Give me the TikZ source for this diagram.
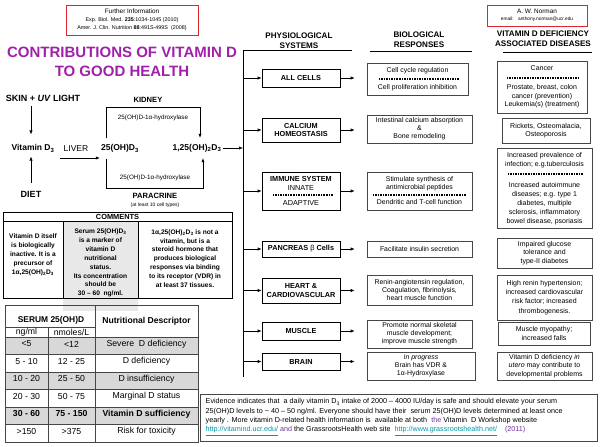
\documentclass[tikz,border=0pt]{standalone}
\usepackage{fontspec}
\setmainfont{Liberation Sans}
\usepackage{tikz}
\usetikzlibrary{positioning, arrows.meta}

\definecolor{titoloviola}{RGB}{160,32,170}
\definecolor{rossobox}{RGB}{220,40,45}
\definecolor{grigiobordo}{RGB}{70,70,70}
\definecolor{grigiocella}{RGB}{216,216,216}
\definecolor{grigiochiaro}{RGB}{232,232,232}
\definecolor{linkteal}{RGB}{0,150,165}
\definecolor{violatesto}{RGB}{112,48,160}

\newcommand{\fsz}[2]{\fontsize{#1}{#2}\selectfont}
\newcommand{\dsub}[1]{\textsubscript{#1}}
\newcommand{\weblink}[1]{\textcolor{linkteal}{\underline{#1}}}

\tikzset{
  arr/.style={-{Latex[length=4pt,width=3.2pt]}, line width=0.6pt},
  sysbox/.style={draw, line width=0.6pt, minimum width=78pt, align=center, inner sep=1pt, font=\bfseries\fsz{7.3}{8.5}},
  biobox/.style={draw=grigiobordo, line width=0.6pt, minimum width=105pt, align=center, inner sep=1pt, font=\fsz{6.9}{8}},
  disbox/.style={draw=grigiobordo, line width=0.6pt, minimum width=95pt, align=center, inner sep=1pt, font=\fsz{7}{8.6}},
  dotsep/.style={line width=1.1pt, dash pattern=on 0.9pt off 0.75pt},
  lbl/.style={font=\bfseries\fsz{8.5}{10}, inner sep=1pt},
  hdr/.style={font=\bfseries\fsz{8.1}{10}, align=center, inner sep=0pt},
  infobox/.style={draw=rossobox, line width=0.8pt, align=center, inner sep=1pt},
  nota/.style={font=\bfseries\fsz{6.6}{8.9}, align=center, inner sep=0pt},
  tab/.style={font=\fsz{8.7}{9}, inner sep=0pt},
}

\begin{document}
\begin{tikzpicture}[x=1pt, y=-1pt]
    \useasboundingbox (0,0) rectangle (600,447);

    % riquadri in alto
    \node[infobox, minimum width=132pt, minimum height=30pt, font=\fsz{5.4}{8}] (furtherinfo) at (132,20)
        {{\fsz{6.4}{8}Further Information}\\Exp. Biol. Med. {\bfseries 235}:1034-1045 (2010)\\Amer. J. Clin. Nutrition {\bfseries 88}:491S-499S~ (2008)};
    \node[infobox, minimum width=100pt, minimum height=21pt, font=\fsz{4.8}{7.5}] (author) at (537,15.5)
        {{\fsz{6.4}{7.5}A. W. Norman}\\email:~~ anthony.norman@ucr.edu};

    \node[font=\bfseries\fsz{15}{19}, text=titoloviola, align=center] (titolo) at (122,61.5) {CONTRIBUTIONS OF VITAMIN D\\TO GOOD HEALTH};

    % intestazioni colonne
    \node[hdr] (hsys) at (299,40.5) {PHYSIOLOGICAL\\SYSTEMS};
    \node[hdr] (hbio) at (419,39.5) {BIOLOGICAL\\RESPONSES};
    \node[hdr] (hdis) at (543,38.5) {VITAMIN D DEFICIENCY\\ASSOCIATED DISEASES};
    \coordinate (spinetop) at (243,50);
    \coordinate (spinebot) at (243,377);
    \draw[line width=0.7pt] (352,50) -- (spinetop) -- (spinebot); % linea verticale
    \draw[line width=0.7pt] (370,51) -- (472,51);
    \draw[line width=0.7pt] (503,52) -- (592,52);

    % metabolismo
    \coordinate (asse) at (31,0);
    \node[lbl, font=\bfseries\fsz{9}{10}] (skin) at (43,98) {SKIN + \textit{UV} LIGHT};
    \node[lbl] (vitd) at (33,148.5) {Vitamin D\dsub{3}};
    \node[lbl, font=\bfseries\fsz{9}{10}] (diet) at (31,194.5) {DIET};
    \node[lbl, font=\fsz{8.5}{10}] (liver) at (76,148.5) {LIVER};
    \node[lbl] (ohd) at (120,148.5) {25(OH)D\dsub{3}};
    \node[lbl] (dihyd) at (197,148) {1,25(OH)\dsub{2}D\dsub{3}};
    \coordinate (liverarr) at (60,158);
    \draw[arr, shorten <=4pt, shorten >=9pt] (skin.south -| asse) -- (vitd.north -| asse);
    \draw[arr, shorten <=7pt, shorten >=3pt] (diet.north) -- (vitd.south -| diet.north);
    \draw[arr] (liverarr) -- (liverarr -| ohd.west);
    \draw[arr, shorten <=5pt, shorten >=5pt] ([xshift=-14pt]ohd.north) -- ++(0,-36) -| ([xshift=3pt]dihyd.north); % rene
    \draw[arr, shorten <=5pt, shorten >=5pt] ([xshift=-14pt]ohd.south) -- ++(0,35) -| ([xshift=6pt]dihyd.south); % paracrino
    \draw[arr] (dihyd.east) -- (dihyd.east -| spinetop);
    \node[lbl, font=\bfseries\fsz{7.6}{9}] (kidney) at (148,100) {KIDNEY};
    \node[font=\fsz{6.3}{8}] (kidenz) at (153,118) {25(OH)D-1α-hydroxylase};
    \node[font=\fsz{6.3}{8}] (paraenz) at (155,178) {25(OH)D-1α-hydroxylase};
    \node[lbl, font=\bfseries\fsz{7.6}{9}] (paracrine) at (155,196) {PARACRINE};
    \node[font=\fsz{5}{6}, inner sep=0pt] (paranote) at (155,205) {(at least 10 cell types)};

    % commenti
    \fill[grigiochiaro] (63,221) rectangle (138,311);
    \draw[line width=0.8pt] (3,212) rectangle (232,298);
    \draw[line width=0.8pt] (3,221) -- (232,221) (63,221) -- (63,298) (138,221) -- (138,298);
    \node[font=\bfseries\fsz{7.4}{8}, inner sep=0pt] (comments) at (117.5,216.5) {COMMENTS};
    \node[nota] (nota1) at (33,255) {Vitamin D itself\\is biologically\\inactive. It is a\\precursor of\\1α,25(OH)\dsub{2}D\dsub{3}};
    \node[nota] (nota2) at (100.5,263) {Serum 25(OH)D\dsub{3}\\is a marker of\\vitamin D\\nutritional\\status.\\Its concentration\\should be\\30 – 60~ ng/ml.};
    \node[nota] (nota3) at (185,258.5) {1α,25(OH)\dsub{2}D\dsub{3} is not a\\vitamin, but is a\\steroid hormone that\\produces biological\\responses via binding\\to its receptor (VDR) in\\at least 37 tissues.};

    % tabella
    \fill[grigiocella] (5,337) rectangle (198,354.5) (5,372) rectangle (198,389.5) (5,407) rectangle (198,424.5);
    \draw[line width=0.6pt, grigiobordo] (5,327) -- (95,327) (48,327) -- (48,442) (95,305) -- (95,442);
    \foreach \y in {337,354.5,372,389.5,407,424.5}
        \draw[line width=0.6pt, grigiobordo] (5,\y) -- (198,\y);
    \draw[line width=0.9pt, grigiobordo] (5,305) rectangle (198,442);
    \node[tab, font=\bfseries\fsz{8.4}{9}] (serum) at (51,320) {SERUM 25(OH)D};
    \node[tab] (ngml) at (26.5,332) {ng/ml};
    \node[tab] (nmol) at (71.5,332) {nmoles/L};
    \node[tab, font=\bfseries\fsz{8.6}{9}] (descr) at (146.5,321) {Nutritional Descriptor};
    \foreach \y/\a/\b/\c in {344/<5/<12/Severe~ D deficiency, 361.5/5 - 10/12 - 25/D deficiency,
        379/10 - 20/25 - 50/D insufficiency, 396.5/20 - 30/50 - 75/Marginal D status,
        414/\textbf{30 - 60}/\textbf{75 - 150}/\textbf{Vitamin D sufficiency}, 431.5/>150/>375/Risk for toxicity} {
        \node[tab] at (26.5,\y) {\a};
        \node[tab] at (71.5,\y) {\b};
        \node[tab] at (146.5,\y) {\c};
    }

    % sistemi fisiologici
    \node[sysbox, minimum height=18pt] (allcells) at (301,78) {ALL CELLS};
    \node[sysbox, minimum height=24pt] (calcium) at (301,130) {CALCIUM\\HOMEOSTASIS};
    \node[sysbox, minimum height=38pt] (immune) at (301,191) {IMMUNE SYSTEM\\{\mdseries INNATE}\\[6.5pt]{\mdseries ADAPTIVE}};
    \node[sysbox, minimum height=16pt] (pancreas) at (301,249) {PANCREAS {\mdseries β} Cells};
    \node[sysbox, minimum height=25pt] (heart) at (301,290.5) {HEART \&\\CARDIOVASCULAR};
    \node[sysbox, minimum height=18pt] (muscle) at (301,331) {MUSCLE};
    \node[sysbox, minimum height=17pt] (brain) at (301,361.5) {BRAIN};

    % risposte biologiche
    \node[biobox, minimum width=101pt, minimum height=32pt] (cellcycle) at (417.5,79) {Cell cycle regulation\\[9pt]Cell proliferation inhibition};
    \node[biobox, minimum height=28pt] (intestinal) at (419.5,129) {Intestinal calcium absorption\\\&\\Bone remodeling};
    \node[biobox, minimum height=38pt] (stimulate) at (419.5,191) {Stimulate synthesis of\\antimicrobial peptides\\[7pt]Dendritic and T-cell function};
    \node[biobox, minimum height=16pt] (insulin) at (419.5,249) {Facilitate insulin secretion};
    \node[biobox, minimum height=30pt] (renin) at (419.5,290) {Renin-angiotensin regulation,\\Coagulation, fibrinolysis,\\heart muscle function};
    \node[biobox, minimum height=28pt] (promote) at (419.5,334) {Promote normal skeletal\\muscle development;\\improve muscle strength};
    \node[biobox, minimum width=108pt, minimum height=28pt] (progress) at (421,366) {\textit{In progress}\\Brain has VDR \&\\1α-Hydroxylase};
    \draw[dotsep] (379,79) -- (459,79);
    \draw[dotsep] (373,195) -- (467,195);
    \draw[dotsep] (273,195) -- (333,195);

    % malattie
    \node[disbox, minimum width=90pt, minimum height=52pt] (cancer) at (542,87) {Cancer\\[10pt]Prostate, breast, colon\\cancer (prevention)\\Leukemia(s) (treatment)};
    \node[disbox, minimum width=88pt, minimum height=25pt] (rickets) at (546,130.5) {Rickets, Osteomalacia,\\Osteoporosis};
    \node[disbox, minimum height=80pt, font=\fsz{7}{9}] (infection) at (544.5,188.5) {Increased prevalence of\\infection; e.g.tuberculosis\\[12pt]Increased autoimmune\\diseases; e.g. type 1\\diabetes, multiple\\sclerosis, inflammatory\\bowel disease, psoriasis};
    \node[disbox, minimum height=30pt, font=\fsz{7}{8.2}] (glucose) at (544.5,253) {Impaired glucose\\tolerance and\\type-II diabetes};
    \node[disbox, minimum height=45pt, font=\fsz{7}{9.2}] (hypert) at (544.5,297.5) {High renin hypertension;\\increased cardiovascular\\risk factor; increased\\thrombogenesis.};
    \node[disbox, minimum width=92pt, minimum height=23pt] (myopathy) at (544,333.5) {Muscle myopathy;\\increased falls};
    \node[disbox, minimum height=28pt] (utero) at (544.5,366) {Vitamin D deficiency \textit{in}\\\textit{utero} may contribute to\\developmental problems};
    \draw[dotsep] (507,78) -- (578,78);
    \draw[dotsep] (508,174) -- (583,174);

    % frecce
    \foreach \s/\b in {allcells/cellcycle, calcium/intestinal, immune/stimulate, pancreas/insulin, heart/renin, muscle/promote, brain/progress} {
        \draw[arr] (spinetop |- \s.west) -- (\s.west);
        \draw[arr, shorten >=12pt] (\s.east) -- (\s.east -| \b.west);
    }

    % nota in basso
    \node[draw=grigiobordo, line width=0.6pt, minimum width=397pt, minimum height=47pt] (evidence) at (398.5,417.5) {};
    \node[anchor=north west, align=left, font=\fsz{7.2}{9.3}, inner sep=0pt] (evidtxt) at (205.5,398.5)
        {Evidence indicates that~ a daily vitamin D\dsub{3} intake of 2000 – 4000 IU/day is safe and should elevate your serum\\
         25(OH)D levels to \textasciitilde{} 40 – 50 ng/ml. Everyone should have their~ serum 25(OH)D levels determined at least once\\
         yearly . More vitamin D-related health information is~ available at both~ \textcolor{violatesto}{the} Vitamin~ D Workshop website\\
         \weblink{http://vitamind.ucr.edu/} \textcolor{violatesto}{and} the GrassrootsHealth web site~ \weblink{http://www.grassrootshealth.net/}~~~ \textcolor{violatesto}{(2011)}};
\end{tikzpicture}
\end{document}
